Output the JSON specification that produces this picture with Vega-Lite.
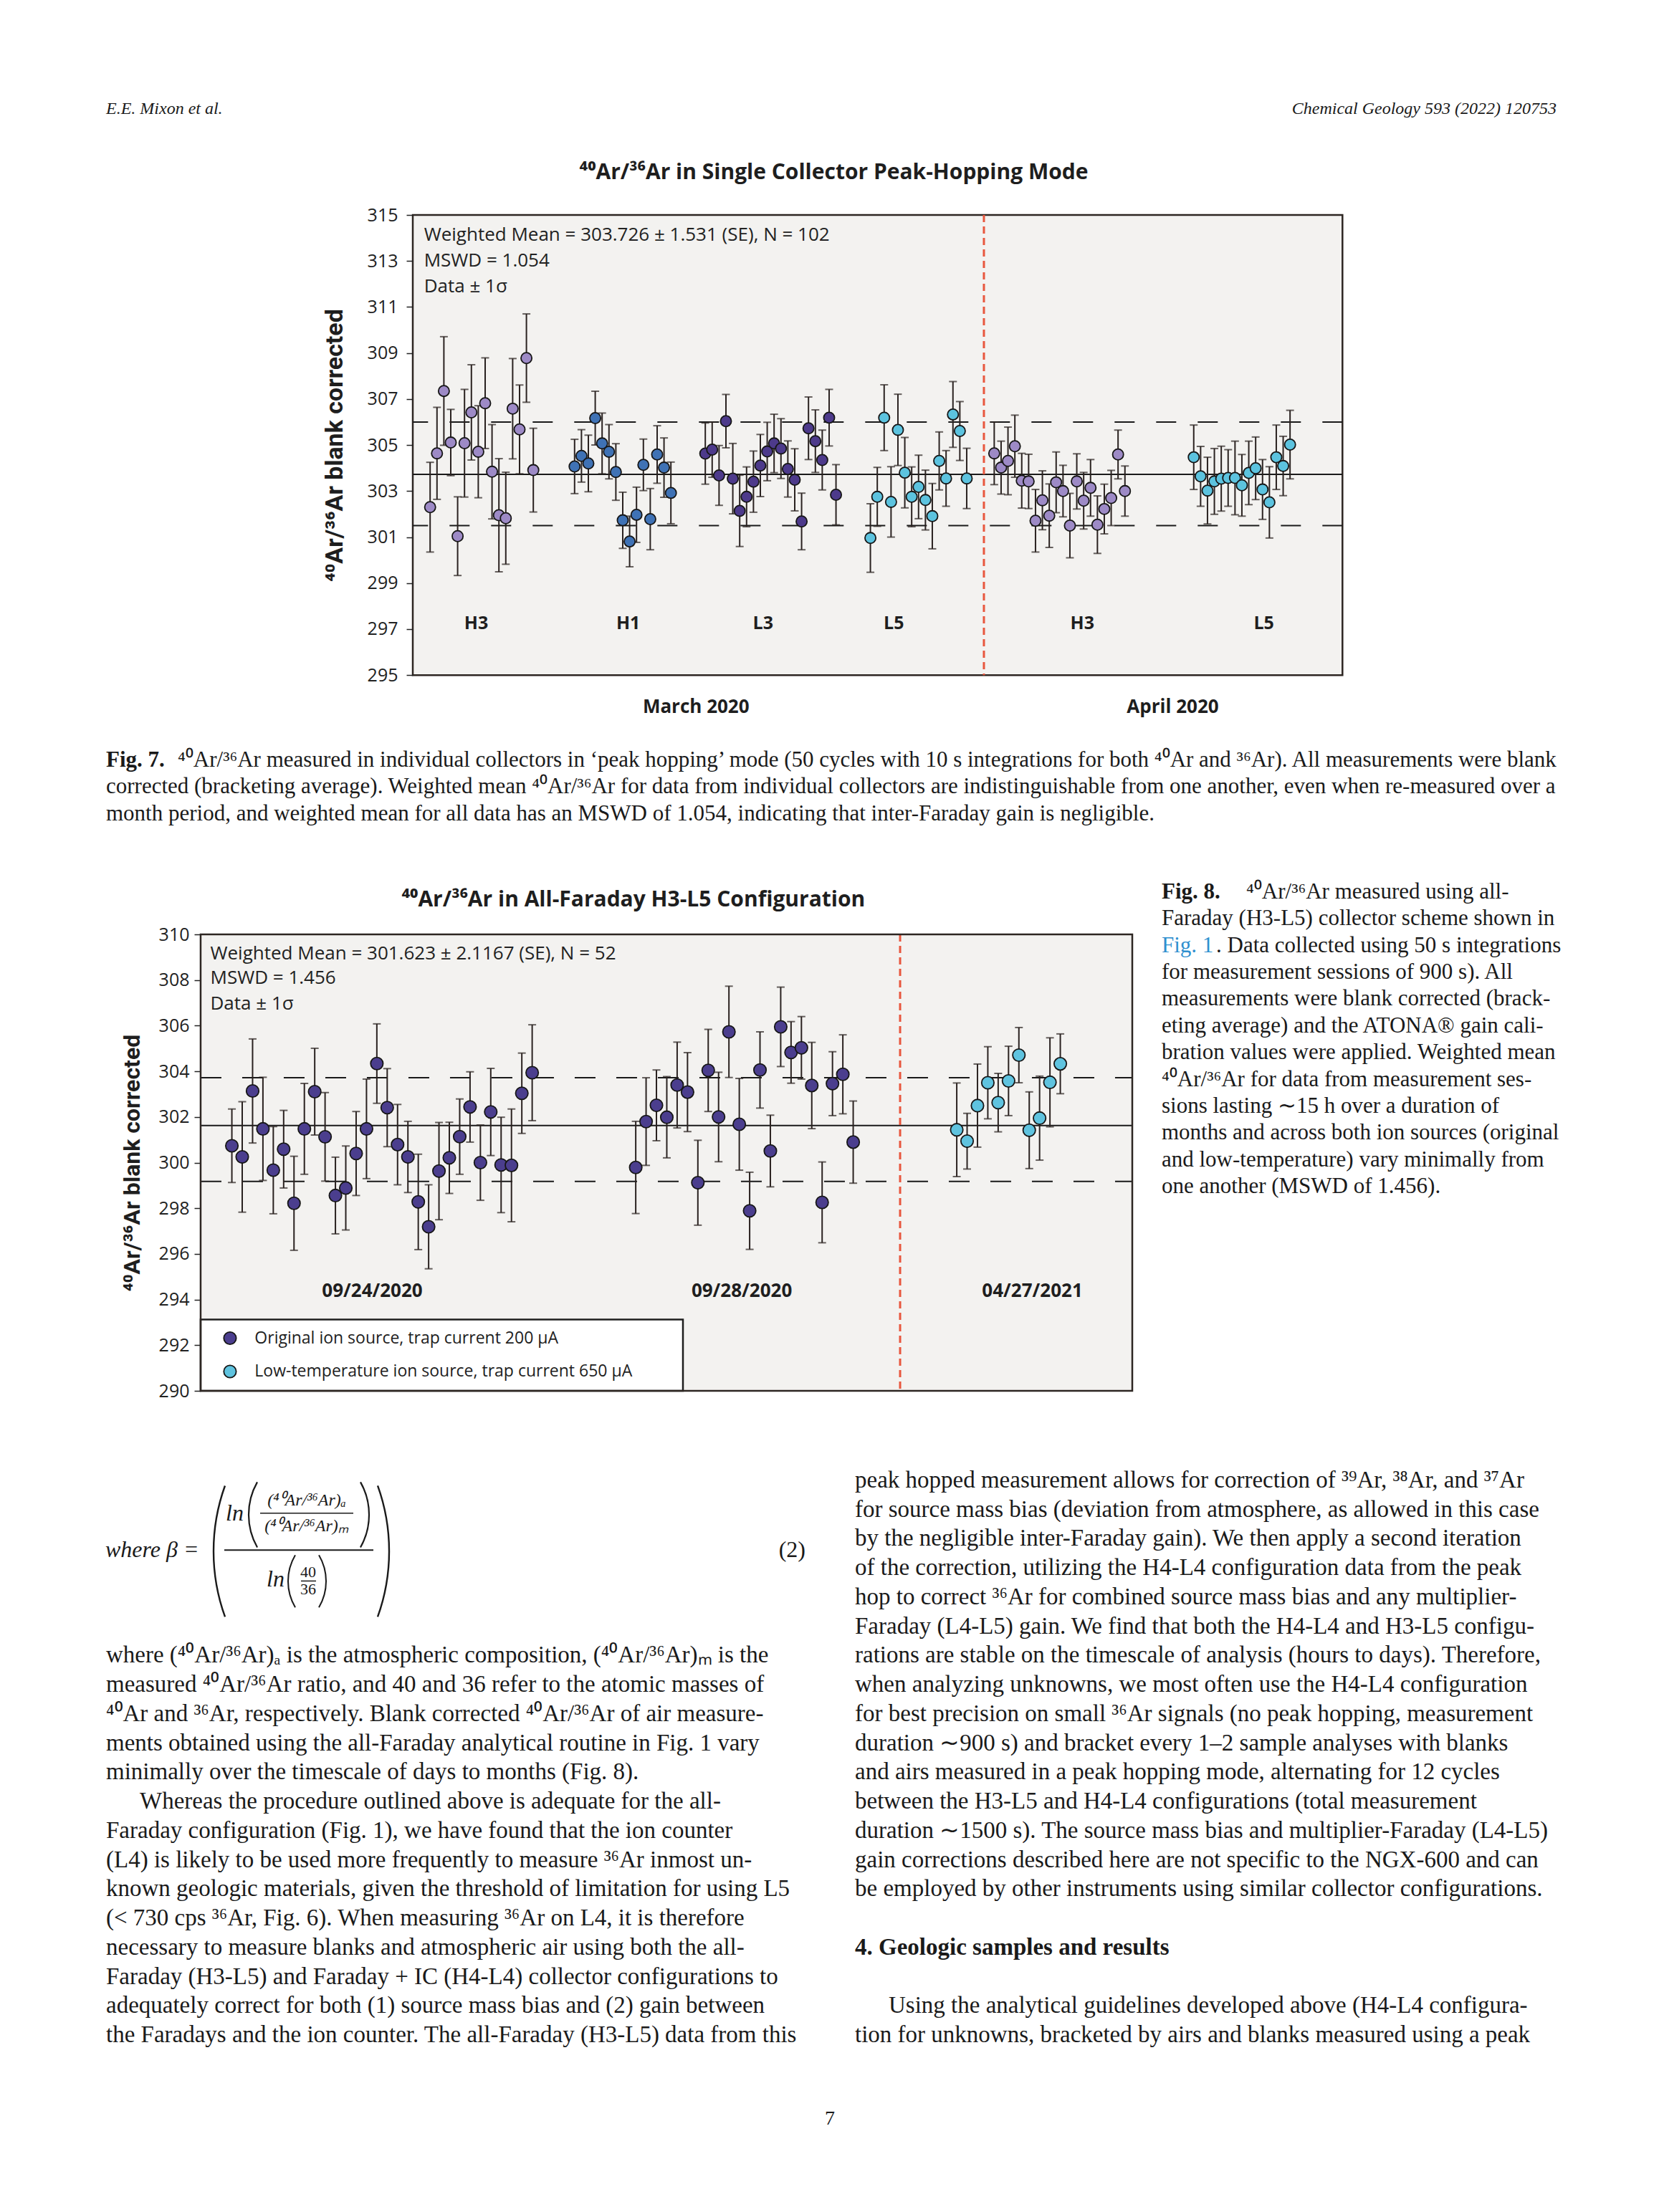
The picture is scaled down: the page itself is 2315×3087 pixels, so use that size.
{
"$schema": "https://vega.github.io/schema/vega-lite/v6.json",
"padding": 0,
"background": "white",
"columns": 2,
"align": "none",
"spacing": 0,
"bounds": "flush",
"resolve": {"scale": {"color": "independent"}},
"config": {"view": {"stroke": null}, "font": "Open Sans", "concat": {"spacing": 0}},
"datasets": {
"c1": [
{"s":1,"v":302.30,"e":1.95,"c":"H3"},{"s":2,"v":304.64,"e":2.00,"c":"H3"},{"s":3,"v":307.35,"e":2.36,"c":"H3"},{"s":4,"v":305.11,"e":1.44,"c":"H3"},{"s":5,"v":301.04,"e":1.71,"c":"H3"},{"s":6,"v":305.08,"e":2.34,"c":"H3"},{"s":7,"v":306.42,"e":2.07,"c":"H3"},{"s":8,"v":304.71,"e":2.00,"c":"H3"},{"s":9,"v":306.82,"e":1.97,"c":"H3"},{"s":10,"v":303.84,"e":2.05,"c":"H3"},{"s":11,"v":301.95,"e":2.46,"c":"H3"},{"s":12,"v":301.82,"e":2.00,"c":"H3"},{"s":13,"v":306.58,"e":2.18,"c":"H3"},{"s":14,"v":305.68,"e":1.93,"c":"H3"},{"s":15,"v":308.78,"e":1.92,"c":"H3"},{"s":16,"v":303.91,"e":1.82,"c":"H3"},
{"s":22,"v":304.07,"e":1.18,"c":"H1"},{"s":23,"v":304.53,"e":1.14,"c":"H1"},{"s":24,"v":304.20,"e":1.23,"c":"H1"},{"s":25,"v":306.17,"e":1.17,"c":"H1"},{"s":26,"v":305.07,"e":1.32,"c":"H1"},{"s":27,"v":304.71,"e":1.18,"c":"H1"},{"s":28,"v":303.83,"e":1.23,"c":"H1"},{"s":29,"v":301.73,"e":1.22,"c":"H1"},{"s":30,"v":300.81,"e":1.10,"c":"H1"},{"s":31,"v":301.97,"e":1.20,"c":"H1"},{"s":32,"v":304.14,"e":1.12,"c":"H1"},{"s":33,"v":301.78,"e":1.33,"c":"H1"},{"s":34,"v":304.59,"e":1.25,"c":"H1"},{"s":35,"v":304.02,"e":1.29,"c":"H1"},{"s":36,"v":302.92,"e":1.34,"c":"H1"},
{"s":41,"v":304.63,"e":1.33,"c":"L3"},{"s":42,"v":304.80,"e":1.20,"c":"L3"},{"s":43,"v":303.68,"e":1.30,"c":"L3"},{"s":44,"v":306.04,"e":1.16,"c":"L3"},{"s":45,"v":303.54,"e":1.53,"c":"L3"},{"s":46,"v":302.14,"e":1.55,"c":"L3"},{"s":47,"v":302.75,"e":1.30,"c":"L3"},{"s":48,"v":303.41,"e":1.33,"c":"L3"},{"s":49,"v":304.11,"e":1.35,"c":"L3"},{"s":50,"v":304.72,"e":1.27,"c":"L3"},{"s":51,"v":305.07,"e":1.27,"c":"L3"},{"s":52,"v":304.85,"e":1.30,"c":"L3"},{"s":53,"v":303.96,"e":1.22,"c":"L3"},{"s":54,"v":303.49,"e":1.35,"c":"L3"},{"s":55,"v":301.68,"e":1.23,"c":"L3"},{"s":56,"v":305.73,"e":1.36,"c":"L3"},{"s":57,"v":305.17,"e":1.36,"c":"L3"},{"s":58,"v":304.35,"e":1.30,"c":"L3"},{"s":59,"v":306.19,"e":1.23,"c":"L3"},{"s":60,"v":302.84,"e":1.31,"c":"L3"},
{"s":65,"v":300.96,"e":1.49,"c":"L5"},{"s":66,"v":302.75,"e":1.28,"c":"L5"},{"s":67,"v":306.19,"e":1.43,"c":"L5"},{"s":68,"v":302.53,"e":1.53,"c":"L5"},{"s":69,"v":305.66,"e":1.55,"c":"L5"},{"s":70,"v":303.80,"e":1.53,"c":"L5"},{"s":71,"v":302.75,"e":1.30,"c":"L5"},{"s":72,"v":303.18,"e":1.38,"c":"L5"},{"s":73,"v":302.61,"e":1.30,"c":"L5"},{"s":74,"v":301.91,"e":1.42,"c":"L5"},{"s":75,"v":304.31,"e":1.26,"c":"L5"},{"s":76,"v":303.55,"e":1.21,"c":"L5"},{"s":77,"v":306.33,"e":1.43,"c":"L5"},{"s":78,"v":305.61,"e":1.28,"c":"L5"},{"s":79,"v":303.55,"e":1.31,"c":"L5"},
{"s":83,"v":304.64,"e":1.36,"c":"H3"},{"s":84,"v":304.02,"e":1.15,"c":"H3"},{"s":85,"v":304.31,"e":1.47,"c":"H3"},{"s":86,"v":304.95,"e":1.35,"c":"H3"},{"s":87,"v":303.45,"e":1.19,"c":"H3"},{"s":88,"v":303.42,"e":1.18,"c":"H3"},{"s":89,"v":301.71,"e":1.36,"c":"H3"},{"s":90,"v":302.60,"e":1.28,"c":"H3"},{"s":91,"v":301.93,"e":1.38,"c":"H3"},{"s":92,"v":303.38,"e":1.32,"c":"H3"},{"s":93,"v":303.00,"e":1.12,"c":"H3"},{"s":94,"v":301.50,"e":1.40,"c":"H3"},{"s":95,"v":303.42,"e":1.20,"c":"H3"},{"s":96,"v":302.58,"e":1.23,"c":"H3"},{"s":97,"v":303.14,"e":1.23,"c":"H3"},{"s":98,"v":301.54,"e":1.25,"c":"H3"},{"s":99,"v":302.22,"e":1.08,"c":"H3"},{"s":100,"v":302.70,"e":1.20,"c":"H3"},{"s":101,"v":304.59,"e":1.06,"c":"H3"},{"s":102,"v":303.00,"e":1.09,"c":"H3"},
{"s":112,"v":304.47,"e":1.40,"c":"L5"},{"s":113,"v":303.64,"e":1.30,"c":"L5"},{"s":114,"v":303.02,"e":1.45,"c":"L5"},{"s":115,"v":303.42,"e":1.43,"c":"L5"},{"s":116,"v":303.54,"e":1.41,"c":"L5"},{"s":117,"v":303.57,"e":1.23,"c":"L5"},{"s":118,"v":303.57,"e":1.60,"c":"L5"},{"s":119,"v":303.25,"e":1.34,"c":"L5"},{"s":120,"v":303.79,"e":1.38,"c":"L5"},{"s":121,"v":303.99,"e":1.36,"c":"L5"},{"s":122,"v":303.07,"e":1.30,"c":"L5"},{"s":123,"v":302.51,"e":1.55,"c":"L5"},{"s":124,"v":304.47,"e":1.40,"c":"L5"},{"s":125,"v":304.09,"e":1.29,"c":"L5"},{"s":126,"v":305.02,"e":1.49,"c":"L5"}
],
"c2": [
{"s":1,"v":300.74,"e":1.61,"src":"original"},{"s":2,"v":300.25,"e":2.42,"src":"original"},{"s":3,"v":303.14,"e":2.28,"src":"original"},{"s":4,"v":301.48,"e":2.26,"src":"original"},{"s":5,"v":299.67,"e":1.91,"src":"original"},{"s":6,"v":300.59,"e":1.70,"src":"original"},{"s":7,"v":298.22,"e":2.06,"src":"original"},{"s":8,"v":301.48,"e":1.99,"src":"original"},{"s":9,"v":303.11,"e":1.90,"src":"original"},{"s":10,"v":301.13,"e":1.94,"src":"original"},{"s":11,"v":298.56,"e":1.68,"src":"original"},{"s":12,"v":298.89,"e":1.84,"src":"original"},{"s":13,"v":300.40,"e":1.84,"src":"original"},{"s":14,"v":301.48,"e":2.18,"src":"original"},{"s":15,"v":304.34,"e":1.74,"src":"original"},{"s":16,"v":302.41,"e":1.71,"src":"original"},{"s":17,"v":300.79,"e":1.76,"src":"original"},{"s":18,"v":300.25,"e":1.56,"src":"original"},{"s":19,"v":298.28,"e":2.09,"src":"original"},{"s":20,"v":297.19,"e":1.84,"src":"original"},{"s":21,"v":299.63,"e":2.13,"src":"original"},{"s":22,"v":300.21,"e":1.56,"src":"original"},{"s":23,"v":301.14,"e":1.65,"src":"original"},{"s":24,"v":302.44,"e":1.54,"src":"original"},{"s":25,"v":300.00,"e":1.65,"src":"original"},{"s":26,"v":302.22,"e":1.91,"src":"original"},{"s":27,"v":299.90,"e":2.09,"src":"original"},{"s":28,"v":299.88,"e":2.47,"src":"original"},{"s":29,"v":303.04,"e":1.76,"src":"original"},{"s":30,"v":303.94,"e":2.10,"src":"original"},
{"s":40,"v":299.79,"e":2.02,"src":"original"},{"s":41,"v":301.80,"e":1.92,"src":"original"},{"s":42,"v":302.51,"e":1.55,"src":"original"},{"s":43,"v":301.99,"e":1.78,"src":"original"},{"s":44,"v":303.40,"e":1.88,"src":"original"},{"s":45,"v":303.09,"e":1.73,"src":"original"},{"s":46,"v":299.12,"e":1.86,"src":"original"},{"s":47,"v":304.04,"e":1.80,"src":"original"},{"s":48,"v":302.00,"e":1.96,"src":"original"},{"s":49,"v":305.73,"e":2.00,"src":"original"},{"s":50,"v":301.68,"e":2.01,"src":"original"},{"s":51,"v":297.89,"e":1.69,"src":"original"},{"s":52,"v":304.06,"e":1.67,"src":"original"},{"s":53,"v":300.51,"e":1.57,"src":"original"},{"s":54,"v":305.95,"e":1.74,"src":"original"},{"s":55,"v":304.83,"e":1.35,"src":"original"},{"s":56,"v":305.03,"e":1.37,"src":"original"},{"s":57,"v":303.38,"e":1.89,"src":"original"},{"s":58,"v":298.26,"e":1.77,"src":"original"},{"s":59,"v":303.46,"e":1.40,"src":"original"},{"s":60,"v":303.87,"e":1.73,"src":"original"},{"s":61,"v":300.90,"e":1.80,"src":"original"},
{"s":71,"v":301.44,"e":2.05,"src":"low-temperature"},{"s":72,"v":300.94,"e":1.22,"src":"low-temperature"},{"s":73,"v":302.50,"e":1.82,"src":"low-temperature"},{"s":74,"v":303.50,"e":1.58,"src":"low-temperature"},{"s":75,"v":302.63,"e":1.28,"src":"low-temperature"},{"s":76,"v":303.58,"e":1.52,"src":"low-temperature"},{"s":77,"v":304.71,"e":1.21,"src":"low-temperature"},{"s":78,"v":301.42,"e":1.68,"src":"low-temperature"},{"s":79,"v":301.95,"e":1.84,"src":"low-temperature"},{"s":80,"v":303.52,"e":1.95,"src":"low-temperature"},{"s":81,"v":304.33,"e":1.31,"src":"low-temperature"}
],
"cap7": [
{"l":1,"t":"corrected (bracketing average). Weighted mean ⁴⁰Ar/³⁶Ar for data from individual collectors are indistinguishable from one another, even when re-measured over a"},
{"l":2,"t":"month period, and weighted mean for all data has an MSWD of 1.054, indicating that inter-Faraday gain is negligible."}
],
"cap8": [
{"l":1,"t":"Faraday (H3-L5) collector scheme shown in"},
{"l":3,"t":"for measurement sessions of 900 s). All"},
{"l":4,"t":"measurements were blank corrected (brack-"},
{"l":5,"t":"eting average) and the ATONA® gain cali-"},
{"l":6,"t":"bration values were applied. Weighted mean"},
{"l":7,"t":"⁴⁰Ar/³⁶Ar for data from measurement ses-"},
{"l":8,"t":"sions lasting ∼15 h over a duration of"},
{"l":9,"t":"months and across both ion sources (original"},
{"l":10,"t":"and low-temperature) vary minimally from"},
{"l":11,"t":"one another (MSWD of 1.456)."}
],
"left": [
{"l":6,"t":"where (⁴⁰Ar/³⁶Ar)ₐ is the atmospheric composition, (⁴⁰Ar/³⁶Ar)ₘ is the"},
{"l":7,"t":"measured ⁴⁰Ar/³⁶Ar ratio, and 40 and 36 refer to the atomic masses of"},
{"l":8,"t":"⁴⁰Ar and ³⁶Ar, respectively. Blank corrected ⁴⁰Ar/³⁶Ar of air measure-"},
{"l":9,"t":"ments obtained using the all-Faraday analytical routine in Fig. 1 vary"},
{"l":10,"t":"minimally over the timescale of days to months (Fig. 8)."},
{"l":12,"t":"Faraday configuration (Fig. 1), we have found that the ion counter"},
{"l":13,"t":"(L4) is likely to be used more frequently to measure ³⁶Ar inmost un-"},
{"l":14,"t":"known geologic materials, given the threshold of limitation for using L5"},
{"l":15,"t":"(< 730 cps ³⁶Ar, Fig. 6). When measuring ³⁶Ar on L4, it is therefore"},
{"l":16,"t":"necessary to measure blanks and atmospheric air using both the all-"},
{"l":17,"t":"Faraday (H3-L5) and Faraday + IC (H4-L4) collector configurations to"},
{"l":18,"t":"adequately correct for both (1) source mass bias and (2) gain between"},
{"l":19,"t":"the Faradays and the ion counter. The all-Faraday (H3-L5) data from this"}
],
"leftIndent": [
{"l":11,"t":"Whereas the procedure outlined above is adequate for the all-"}
],
"right": [
{"l":0,"t":"peak hopped measurement allows for correction of ³⁹Ar, ³⁸Ar, and ³⁷Ar"},
{"l":1,"t":"for source mass bias (deviation from atmosphere, as allowed in this case"},
{"l":2,"t":"by the negligible inter-Faraday gain). We then apply a second iteration"},
{"l":3,"t":"of the correction, utilizing the H4-L4 configuration data from the peak"},
{"l":4,"t":"hop to correct ³⁶Ar for combined source mass bias and any multiplier-"},
{"l":5,"t":"Faraday (L4-L5) gain. We find that both the H4-L4 and H3-L5 configu-"},
{"l":6,"t":"rations are stable on the timescale of analysis (hours to days). Therefore,"},
{"l":7,"t":"when analyzing unknowns, we most often use the H4-L4 configuration"},
{"l":8,"t":"for best precision on small ³⁶Ar signals (no peak hopping, measurement"},
{"l":9,"t":"duration ∼900 s) and bracket every 1–2 sample analyses with blanks"},
{"l":10,"t":"and airs measured in a peak hopping mode, alternating for 12 cycles"},
{"l":11,"t":"between the H3-L5 and H4-L4 configurations (total measurement"},
{"l":12,"t":"duration ∼1500 s). The source mass bias and multiplier-Faraday (L4-L5)"},
{"l":13,"t":"gain corrections described here are not specific to the NGX-600 and can"},
{"l":14,"t":"be employed by other instruments using similar collector configurations."},
{"l":19,"t":"tion for unknowns, bracketed by airs and blanks measured using a peak"}
],
"rightIndent": [
{"l":18,"t":"Using the analytical guidelines developed above (H4-L4 configura-"}
]
},
"concat": [
{
"width": 576, "height": 299.4,
"layer": [
{"data": {"values": [{}]}, "mark": {"type": "text", "text": "E.E. Mixon et al.", "font": "Liberation Serif", "fontStyle": "italic", "fontSize": 24, "align": "left", "baseline": "middle", "color": "#1a1a1a"},
 "encoding": {"x": {"datum": 148, "type": "quantitative", "scale": {"domain": [0, 576], "nice": false, "zero": false}, "axis": null}, "y": {"datum": 151.6, "type": "quantitative", "scale": {"domain": [0, 299.4], "reverse": true, "nice": false, "zero": false}, "axis": null}}},
{"data": {"values": [{}]}, "mark": {"type": "text", "text": "Chemical Geology 593 (2022) 120753", "font": "Liberation Serif", "fontStyle": "italic", "fontSize": 24, "align": "right", "baseline": "middle", "color": "#1a1a1a"},
 "encoding": {"x": {"datum": 2172, "type": "quantitative", "scale": {"domain": [0, 576], "nice": false, "zero": false}, "axis": null}, "y": {"datum": 151.6, "type": "quantitative", "scale": {"domain": [0, 299.4], "reverse": true, "nice": false, "zero": false}, "axis": null}}}
]
},
{"width": 1739, "height": 299.4, "data": {"values": []}, "mark": "point"},
{"width": 576, "height": 642.2, "data": {"values": []}, "mark": "point"},
{
"width": 1297.3, "height": 642.2,
"view": {"fill": "#f3f2f0", "stroke": "#2d2622", "strokeWidth": 2.5},
"title": {"text": "⁴⁰Ar/³⁶Ar in Single Collector Peak-Hopping Mode", "font": "Open Sans", "fontSize": 30, "fontWeight": "bold", "color": "#1e1e1e", "offset": 32, "dx": -61, "anchor": "middle"},
"layer": [
{"data": {"values": [{"v": 303.726}]}, "mark": {"type": "rule", "color": "#1a1a1a", "strokeWidth": 2},
 "encoding": {"y": {"field": "v", "type": "quantitative", "scale": {"domain": [295, 315], "nice": false, "zero": false},
   "axis": {"values": [295, 297, 299, 301, 303, 305, 307, 309, 311, 313, 315], "title": "⁴⁰Ar/³⁶Ar blank corrected", "titleFont": "Roboto", "titleFontSize": 34, "titleFontWeight": "bold", "titleColor": "#1e1e1e", "titlePadding": 28, "labelFont": "Open Sans", "labelFontSize": 25, "labelColor": "#222222", "labelPadding": 12, "tickSize": 9, "tickColor": "#222222", "tickWidth": 1.5, "domain": false, "grid": false}}}},
{"data": {"values": [{"v": 306.0}, {"v": 301.5}]}, "mark": {"type": "rule", "color": "#1a1a1a", "strokeWidth": 2, "strokeDash": [28, 30]},
 "encoding": {"y": {"field": "v", "type": "quantitative", "scale": {"domain": [295, 315], "nice": false, "zero": false},
   "axis": {"values": [295, 297, 299, 301, 303, 305, 307, 309, 311, 313, 315], "title": "⁴⁰Ar/³⁶Ar blank corrected", "titleFont": "Roboto", "titleFontSize": 34, "titleFontWeight": "bold", "titleColor": "#1e1e1e", "titlePadding": 28, "labelFont": "Open Sans", "labelFontSize": 25, "labelColor": "#222222", "labelPadding": 12, "tickSize": 9, "tickColor": "#222222", "tickWidth": 1.5, "domain": false, "grid": false}}}},
{"data": {"values": [{"s": 81.5}]}, "mark": {"type": "rule", "color": "#e8573e", "strokeWidth": 3, "strokeDash": [10, 6]},
 "encoding": {"x": {"field": "s", "type": "quantitative", "scale": {"domain": [-1.52, 133.62], "nice": false, "zero": false},
   "axis": {"values": [39.6, 108.9], "labelExpr": "datum.value < 70 ? 'March 2020' : 'April 2020'", "ticks": false, "tickSize": 0, "domain": false, "grid": false, "title": null, "labelFont": "Open Sans", "labelFontSize": 26, "labelFontWeight": "bold", "labelColor": "#1e1e1e", "labelPadding": 31}}}},
{"data": {"name": "c1"}, "mark": {"type": "errorbar", "ticks": {"size": 11, "thickness": 2, "color": "#2a2220"}, "rule": {"strokeWidth": 2, "color": "#2a2220"}},
 "encoding": {
   "x": {"field": "s", "type": "quantitative", "scale": {"domain": [-1.52, 133.62], "nice": false, "zero": false},
     "axis": {"values": [39.6, 108.9], "labelExpr": "datum.value < 70 ? 'March 2020' : 'April 2020'", "ticks": false, "tickSize": 0, "domain": false, "grid": false, "title": null, "labelFont": "Open Sans", "labelFontSize": 26, "labelFontWeight": "bold", "labelColor": "#1e1e1e", "labelPadding": 31}},
   "y": {"field": "v", "type": "quantitative", "scale": {"domain": [295, 315], "nice": false, "zero": false},
     "axis": {"values": [295, 297, 299, 301, 303, 305, 307, 309, 311, 313, 315], "title": "⁴⁰Ar/³⁶Ar blank corrected", "titleFont": "Roboto", "titleFontSize": 34, "titleFontWeight": "bold", "titleColor": "#1e1e1e", "titlePadding": 28, "labelFont": "Open Sans", "labelFontSize": 25, "labelColor": "#222222", "labelPadding": 12, "tickSize": 9, "tickColor": "#222222", "tickWidth": 1.5, "domain": false, "grid": false}},
   "yError": {"field": "e"}}},
{"data": {"name": "c1"}, "mark": {"type": "circle", "size": 230, "opacity": 1, "stroke": "#161616", "strokeWidth": 1.8},
 "encoding": {
  "x": {"field": "s", "type": "quantitative", "scale": {"domain": [-1.52, 133.62], "nice": false, "zero": false},
     "axis": {"values": [39.6, 108.9], "labelExpr": "datum.value < 70 ? 'March 2020' : 'April 2020'", "ticks": false, "tickSize": 0, "domain": false, "grid": false, "title": null, "labelFont": "Open Sans", "labelFontSize": 26, "labelFontWeight": "bold", "labelColor": "#1e1e1e", "labelPadding": 31}},
  "y": {"field": "v", "type": "quantitative", "scale": {"domain": [295, 315], "nice": false, "zero": false},
     "axis": {"values": [295, 297, 299, 301, 303, 305, 307, 309, 311, 313, 315], "title": "⁴⁰Ar/³⁶Ar blank corrected", "titleFont": "Roboto", "titleFontSize": 34, "titleFontWeight": "bold", "titleColor": "#1e1e1e", "titlePadding": 28, "labelFont": "Open Sans", "labelFontSize": 25, "labelColor": "#222222", "labelPadding": 12, "tickSize": 9, "tickColor": "#222222", "tickWidth": 1.5, "domain": false, "grid": false}},
  "color": {"field": "c", "type": "nominal", "scale": {"domain": ["H3", "H1", "L3", "L5"], "range": ["#9d8ac6", "#3f72b5", "#4d3a8b", "#5cc3df"]}, "legend": null}}},
{"data": {"values": [{"t": "H3", "s": 7.7}, {"t": "H1", "s": 29.8}, {"t": "L3", "s": 49.4}, {"t": "L5", "s": 68.4}, {"t": "H3", "s": 95.8}, {"t": "L5", "s": 122.2}]},
 "mark": {"type": "text", "font": "Open Sans", "fontSize": 25, "fontWeight": "bold", "color": "#1e1e1e", "baseline": "middle", "align": "center"},
 "encoding": {"x": {"field": "s", "type": "quantitative", "scale": {"domain": [-1.52, 133.62], "nice": false, "zero": false},
     "axis": {"values": [39.6, 108.9], "labelExpr": "datum.value < 70 ? 'March 2020' : 'April 2020'", "ticks": false, "tickSize": 0, "domain": false, "grid": false, "title": null, "labelFont": "Open Sans", "labelFontSize": 26, "labelFontWeight": "bold", "labelColor": "#1e1e1e", "labelPadding": 31}},
   "y": {"datum": 297.25, "type": "quantitative", "scale": {"domain": [295, 315], "nice": false, "zero": false},
     "axis": {"values": [295, 297, 299, 301, 303, 305, 307, 309, 311, 313, 315], "title": "⁴⁰Ar/³⁶Ar blank corrected", "titleFont": "Roboto", "titleFontSize": 34, "titleFontWeight": "bold", "titleColor": "#1e1e1e", "titlePadding": 28, "labelFont": "Open Sans", "labelFontSize": 25, "labelColor": "#222222", "labelPadding": 12, "tickSize": 9, "tickColor": "#222222", "tickWidth": 1.5, "domain": false, "grid": false}},
   "text": {"field": "t"}}},
{"data": {"values": [{}]}, "mark": {"type": "text", "text": "Weighted Mean = 303.726 ± 1.531 (SE), N = 102", "font": "Open Sans", "fontSize": 26, "color": "#222222", "align": "left", "baseline": "middle"},
 "encoding": {"x": {"datum": 0.11, "type": "quantitative", "scale": {"domain": [-1.52, 133.62], "nice": false, "zero": false}}, "y": {"datum": 314.14, "type": "quantitative", "scale": {"domain": [295, 315], "nice": false, "zero": false}}}},
{"data": {"values": [{}]}, "mark": {"type": "text", "text": "MSWD = 1.054", "font": "Open Sans", "fontSize": 26, "color": "#222222", "align": "left", "baseline": "middle"},
 "encoding": {"x": {"datum": 0.11, "type": "quantitative", "scale": {"domain": [-1.52, 133.62], "nice": false, "zero": false}}, "y": {"datum": 313.0, "type": "quantitative", "scale": {"domain": [295, 315], "nice": false, "zero": false}}}},
{"data": {"values": [{}]}, "mark": {"type": "text", "text": "Data ± 1σ", "font": "Open Sans", "fontSize": 26, "color": "#222222", "align": "left", "baseline": "middle"},
 "encoding": {"x": {"datum": 0.11, "type": "quantitative", "scale": {"domain": [-1.52, 133.62], "nice": false, "zero": false}}, "y": {"datum": 311.9, "type": "quantitative", "scale": {"domain": [295, 315], "nice": false, "zero": false}}}}
]
},
{
"width": 576, "height": 361,
"resolve": {"scale": {"y": "independent"}},
"layer": [
{"data": {"values": [{}]}, "mark": {"type": "text", "text": "Fig. 7.", "font": "Liberation Serif", "fontSize": 31, "fontWeight": "bold", "align": "left", "baseline": "middle", "color": "#1a1a1a"},
 "encoding": {"x": {"datum": 148, "type": "quantitative", "scale": {"domain": [0, 576], "nice": false, "zero": false}, "axis": null}, "y": {"datum": 0, "type": "quantitative", "scale": {"domain": [-3.147, 6.505], "reverse": true, "nice": false, "zero": false}, "axis": null}}},
{"data": {"values": [{}]}, "mark": {"type": "text", "text": "⁴⁰Ar/³⁶Ar measured in individual collectors in ‘peak hopping’ mode (50 cycles with 10 s integrations for both ⁴⁰Ar and ³⁶Ar). All measurements were blank", "font": "Liberation Serif", "fontSize": 31, "align": "left", "baseline": "middle", "color": "#1a1a1a"},
 "encoding": {"x": {"datum": 248, "type": "quantitative", "scale": {"domain": [0, 576], "nice": false, "zero": false}, "axis": null}, "y": {"datum": 0, "type": "quantitative", "scale": {"domain": [-3.147, 6.505], "reverse": true, "nice": false, "zero": false}, "axis": null}}},
{"data": {"name": "cap7"}, "mark": {"type": "text", "font": "Liberation Serif", "fontSize": 31, "align": "left", "baseline": "middle", "color": "#1a1a1a"},
 "encoding": {"x": {"datum": 148, "type": "quantitative", "scale": {"domain": [0, 576], "nice": false, "zero": false}, "axis": null}, "y": {"field": "l", "type": "quantitative", "scale": {"domain": [-3.147, 6.505], "reverse": true, "nice": false, "zero": false}, "axis": null}, "text": {"field": "t"}}},
{"data": {"values": [{}]}, "mark": {"type": "text", "text": "Fig. 8.", "font": "Liberation Serif", "fontSize": 31, "fontWeight": "bold", "align": "left", "baseline": "middle", "color": "#1a1a1a"},
 "encoding": {"x": {"datum": 1621, "type": "quantitative", "scale": {"domain": [0, 576], "nice": false, "zero": false}, "axis": null}, "y": {"datum": 0, "type": "quantitative", "scale": {"domain": [-8.067, 1.585], "reverse": true, "nice": false, "zero": false}, "axis": null}}},
{"data": {"values": [{}]}, "mark": {"type": "text", "text": "⁴⁰Ar/³⁶Ar  measured  using  all-", "font": "Liberation Serif", "fontSize": 31, "align": "left", "baseline": "middle", "color": "#1a1a1a"},
 "encoding": {"x": {"datum": 1739, "type": "quantitative", "scale": {"domain": [0, 576], "nice": false, "zero": false}, "axis": null}, "y": {"datum": 0, "type": "quantitative", "scale": {"domain": [-8.067, 1.585], "reverse": true, "nice": false, "zero": false}, "axis": null}}},
{"data": {"values": [{}]}, "mark": {"type": "text", "text": "Fig. 1", "font": "Liberation Serif", "fontSize": 31, "align": "left", "baseline": "middle", "color": "#2f8fcf"},
 "encoding": {"x": {"datum": 1621, "type": "quantitative", "scale": {"domain": [0, 576], "nice": false, "zero": false}, "axis": null}, "y": {"datum": 2, "type": "quantitative", "scale": {"domain": [-8.067, 1.585], "reverse": true, "nice": false, "zero": false}, "axis": null}}},
{"data": {"values": [{}]}, "mark": {"type": "text", "text": ". Data collected using 50 s integrations", "font": "Liberation Serif", "fontSize": 31, "align": "left", "baseline": "middle", "color": "#1a1a1a"},
 "encoding": {"x": {"datum": 1697, "type": "quantitative", "scale": {"domain": [0, 576], "nice": false, "zero": false}, "axis": null}, "y": {"datum": 2, "type": "quantitative", "scale": {"domain": [-8.067, 1.585], "reverse": true, "nice": false, "zero": false}, "axis": null}}},
{"data": {"name": "cap8"}, "mark": {"type": "text", "font": "Liberation Serif", "fontSize": 31, "align": "left", "baseline": "middle", "color": "#1a1a1a"},
 "encoding": {"x": {"datum": 1621, "type": "quantitative", "scale": {"domain": [0, 576], "nice": false, "zero": false}, "axis": null}, "y": {"field": "l", "type": "quantitative", "scale": {"domain": [-8.067, 1.585], "reverse": true, "nice": false, "zero": false}, "axis": null}, "text": {"field": "t"}}}
]
},
{"width": 1297.3, "height": 361, "data": {"values": []}, "mark": "point"},
{"width": 576, "height": 637.1, "data": {"values": []}, "mark": "point"},
{
"width": 1004, "height": 637.1,
"title": {"text": "⁴⁰Ar/³⁶Ar in All-Faraday H3-L5 Configuration", "font": "Open Sans", "fontSize": 30, "fontWeight": "bold", "color": "#1e1e1e", "offset": 21, "dx": -194, "anchor": "middle"},
"layer": [
{"data": {"values": [{}]}, "mark": {"type": "rect", "fill": "#f3f2f0"},
 "encoding": {"x": {"datum": -2.017, "type": "quantitative", "scale": {"domain": [18.47, 87.95], "nice": false, "zero": false}, "axis": null}, "x2": {"datum": 87.95},
   "y": {"datum": 290, "type": "quantitative", "scale": {"domain": [290, 310], "nice": false, "zero": false},
     "axis": {"values": [290, 292, 294, 296, 298, 300, 302, 304, 306, 308, 310], "offset": 296, "title": "⁴⁰Ar/³⁶Ar blank corrected", "titleFont": "Roboto", "titleFontSize": 32, "titleFontWeight": "bold", "titleColor": "#1e1e1e", "titlePadding": 20, "labelFont": "Open Sans", "labelFontSize": 25, "labelColor": "#222222", "labelPadding": 7, "tickSize": 9, "tickColor": "#222222", "tickWidth": 1.5, "domain": false, "grid": false}},
   "y2": {"datum": 310}}},
{"data": {"values": [{"v": 301.623}]}, "mark": {"type": "rule", "color": "#1a1a1a", "strokeWidth": 2},
 "encoding": {"x": {"datum": -2.017, "type": "quantitative", "scale": {"domain": [18.47, 87.95], "nice": false, "zero": false}, "axis": null}, "x2": {"datum": 87.95},
   "y": {"field": "v", "type": "quantitative", "scale": {"domain": [290, 310], "nice": false, "zero": false},
     "axis": {"values": [290, 292, 294, 296, 298, 300, 302, 304, 306, 308, 310], "offset": 296, "title": "⁴⁰Ar/³⁶Ar blank corrected", "titleFont": "Roboto", "titleFontSize": 32, "titleFontWeight": "bold", "titleColor": "#1e1e1e", "titlePadding": 20, "labelFont": "Open Sans", "labelFontSize": 25, "labelColor": "#222222", "labelPadding": 7, "tickSize": 9, "tickColor": "#222222", "tickWidth": 1.5, "domain": false, "grid": false}}}},
{"data": {"values": [{"v": 303.72}, {"v": 299.18}]}, "mark": {"type": "rule", "color": "#1a1a1a", "strokeWidth": 2, "strokeDash": [29, 29]},
 "encoding": {"x": {"datum": -2.017, "type": "quantitative", "scale": {"domain": [18.47, 87.95], "nice": false, "zero": false}, "axis": null}, "x2": {"datum": 87.95},
   "y": {"field": "v", "type": "quantitative", "scale": {"domain": [290, 310], "nice": false, "zero": false},
     "axis": {"values": [290, 292, 294, 296, 298, 300, 302, 304, 306, 308, 310], "offset": 296, "title": "⁴⁰Ar/³⁶Ar blank corrected", "titleFont": "Roboto", "titleFontSize": 32, "titleFontWeight": "bold", "titleColor": "#1e1e1e", "titlePadding": 20, "labelFont": "Open Sans", "labelFontSize": 25, "labelColor": "#222222", "labelPadding": 7, "tickSize": 9, "tickColor": "#222222", "tickWidth": 1.5, "domain": false, "grid": false}}}},
{"data": {"values": [{"s": 65.53}]}, "mark": {"type": "rule", "color": "#e8573e", "strokeWidth": 3, "strokeDash": [10, 6]},
 "encoding": {"x": {"field": "s", "type": "quantitative", "scale": {"domain": [18.47, 87.95], "nice": false, "zero": false}, "axis": null}}},
{"data": {"values": [{}]}, "mark": {"type": "rect", "fill": "white", "stroke": "#1e1e1e", "strokeWidth": 2.5},
 "encoding": {"x": {"datum": -2.017, "type": "quantitative", "scale": {"domain": [18.47, 87.95], "nice": false, "zero": false}, "axis": null}, "x2": {"datum": 44.56},
   "y": {"datum": 290, "type": "quantitative", "scale": {"domain": [290, 310], "nice": false, "zero": false}}, "y2": {"datum": 293.13}}},
{"data": {"name": "c2"}, "mark": {"type": "errorbar", "ticks": {"size": 11, "thickness": 2, "color": "#2a2220"}, "rule": {"strokeWidth": 2, "color": "#2a2220"}},
 "encoding": {"x": {"field": "s", "type": "quantitative", "scale": {"domain": [18.47, 87.95], "nice": false, "zero": false}, "axis": null},
   "y": {"field": "v", "type": "quantitative", "scale": {"domain": [290, 310], "nice": false, "zero": false},
     "axis": {"values": [290, 292, 294, 296, 298, 300, 302, 304, 306, 308, 310], "offset": 296, "title": "⁴⁰Ar/³⁶Ar blank corrected", "titleFont": "Roboto", "titleFontSize": 32, "titleFontWeight": "bold", "titleColor": "#1e1e1e", "titlePadding": 20, "labelFont": "Open Sans", "labelFontSize": 25, "labelColor": "#222222", "labelPadding": 7, "tickSize": 9, "tickColor": "#222222", "tickWidth": 1.5, "domain": false, "grid": false}},
   "yError": {"field": "e"}}},
{"data": {"name": "c2"}, "mark": {"type": "circle", "size": 300, "opacity": 1, "stroke": "#161616", "strokeWidth": 1.8},
 "encoding": {
  "x": {"field": "s", "type": "quantitative", "scale": {"domain": [18.47, 87.95], "nice": false, "zero": false}, "axis": null},
  "y": {"field": "v", "type": "quantitative", "scale": {"domain": [290, 310], "nice": false, "zero": false},
     "axis": {"values": [290, 292, 294, 296, 298, 300, 302, 304, 306, 308, 310], "offset": 296, "title": "⁴⁰Ar/³⁶Ar blank corrected", "titleFont": "Roboto", "titleFontSize": 32, "titleFontWeight": "bold", "titleColor": "#1e1e1e", "titlePadding": 20, "labelFont": "Open Sans", "labelFontSize": 25, "labelColor": "#222222", "labelPadding": 7, "tickSize": 9, "tickColor": "#222222", "tickWidth": 1.5, "domain": false, "grid": false}},
  "color": {"field": "src", "type": "nominal", "scale": {"domain": ["original", "low-temperature"], "range": ["#4b3e8e", "#5fc3df"]}, "legend": null}}},
{"data": {"values": [{}]}, "mark": {"type": "circle", "size": 300, "opacity": 1, "stroke": "#161616", "strokeWidth": 1.8},
 "encoding": {"x": {"datum": 0.82, "type": "quantitative", "scale": {"domain": [18.47, 87.95], "nice": false, "zero": false}, "axis": null}, "y": {"datum": 292.31, "type": "quantitative", "scale": {"domain": [290, 310], "nice": false, "zero": false}}, "color": {"datum": "original", "type": "nominal", "scale": {"domain": ["original", "low-temperature"], "range": ["#4b3e8e", "#5fc3df"]}, "legend": null}}},
{"data": {"values": [{}]}, "mark": {"type": "circle", "size": 300, "opacity": 1, "stroke": "#161616", "strokeWidth": 1.8},
 "encoding": {"x": {"datum": 0.82, "type": "quantitative", "scale": {"domain": [18.47, 87.95], "nice": false, "zero": false}, "axis": null}, "y": {"datum": 290.85, "type": "quantitative", "scale": {"domain": [290, 310], "nice": false, "zero": false}}, "color": {"datum": "low-temperature", "type": "nominal", "scale": {"domain": ["original", "low-temperature"], "range": ["#4b3e8e", "#5fc3df"]}, "legend": null}}},
{"data": {"values": [{}]}, "mark": {"type": "text", "text": "Original ion source, trap current 200 μA", "font": "Open Sans", "fontSize": 23, "color": "#1e1e1e", "align": "left", "baseline": "middle"},
 "encoding": {"x": {"datum": 3.2, "type": "quantitative", "scale": {"domain": [18.47, 87.95], "nice": false, "zero": false}, "axis": null}, "y": {"datum": 292.31, "type": "quantitative", "scale": {"domain": [290, 310], "nice": false, "zero": false}}}},
{"data": {"values": [{}]}, "mark": {"type": "text", "text": "Low-temperature ion source, trap current 650 μA", "font": "Open Sans", "fontSize": 23, "color": "#1e1e1e", "align": "left", "baseline": "middle"},
 "encoding": {"x": {"datum": 3.2, "type": "quantitative", "scale": {"domain": [18.47, 87.95], "nice": false, "zero": false}, "axis": null}, "y": {"datum": 290.85, "type": "quantitative", "scale": {"domain": [290, 310], "nice": false, "zero": false}}}},
{"data": {"values": [{"t": "09/24/2020", "s": 14.56}, {"t": "09/28/2020", "s": 50.24}, {"t": "04/27/2021", "s": 78.3}]},
 "mark": {"type": "text", "font": "Open Sans", "fontSize": 26, "fontWeight": "bold", "color": "#1e1e1e", "baseline": "middle", "align": "center"},
 "encoding": {"x": {"field": "s", "type": "quantitative", "scale": {"domain": [18.47, 87.95], "nice": false, "zero": false}, "axis": null},
   "y": {"datum": 294.37, "type": "quantitative", "scale": {"domain": [290, 310], "nice": false, "zero": false}},
   "text": {"field": "t"}}},
{"data": {"values": [{}]}, "mark": {"type": "text", "text": "Weighted Mean = 301.623 ± 2.1167 (SE), N = 52", "font": "Open Sans", "fontSize": 26, "color": "#222222", "align": "left", "baseline": "middle"},
 "encoding": {"x": {"datum": -1.08, "type": "quantitative", "scale": {"domain": [18.47, 87.95], "nice": false, "zero": false}, "axis": null}, "y": {"datum": 309.15, "type": "quantitative", "scale": {"domain": [290, 310], "nice": false, "zero": false}}}},
{"data": {"values": [{}]}, "mark": {"type": "text", "text": "MSWD = 1.456", "font": "Open Sans", "fontSize": 26, "color": "#222222", "align": "left", "baseline": "middle"},
 "encoding": {"x": {"datum": -1.08, "type": "quantitative", "scale": {"domain": [18.47, 87.95], "nice": false, "zero": false}, "axis": null}, "y": {"datum": 308.07, "type": "quantitative", "scale": {"domain": [290, 310], "nice": false, "zero": false}}}},
{"data": {"values": [{}]}, "mark": {"type": "text", "text": "Data ± 1σ", "font": "Open Sans", "fontSize": 26, "color": "#222222", "align": "left", "baseline": "middle"},
 "encoding": {"x": {"datum": -1.08, "type": "quantitative", "scale": {"domain": [18.47, 87.95], "nice": false, "zero": false}, "axis": null}, "y": {"datum": 306.96, "type": "quantitative", "scale": {"domain": [290, 310], "nice": false, "zero": false}}}},
{"data": {"values": [{}]}, "mark": {"type": "rect", "fillOpacity": 0, "stroke": "#2d2622", "strokeWidth": 2.5},
 "encoding": {"x": {"datum": -2.017, "type": "quantitative", "scale": {"domain": [18.47, 87.95], "nice": false, "zero": false}, "axis": null}, "x2": {"datum": 87.95},
   "y": {"datum": 290, "type": "quantitative", "scale": {"domain": [290, 310], "nice": false, "zero": false}}, "y2": {"datum": 310}}}
]
},
{
"width": 576, "height": 1147.3,
"layer": [
{"data": {"values": [{}]}, "mark": {"type": "text", "text": "where β =", "font": "Liberation Serif", "fontStyle": "italic", "fontSize": 32, "align": "left", "baseline": "middle", "color": "#1a1a1a"},
 "encoding": {"x": {"datum": 147, "type": "quantitative", "scale": {"domain": [0, 576], "nice": false, "zero": false}, "axis": null}, "y": {"datum": 2.39, "type": "quantitative", "scale": {"domain": [-3.037, 25.111], "reverse": true, "nice": false, "zero": false}, "axis": null}}},
{"data": {"values": [{}]}, "mark": {"type": "arc", "theta": 4.366, "theta2": 5.058, "innerRadius": 268.4, "outerRadius": 270.8, "fill": "#1a1a1a"},
 "encoding": {"x": {"datum": 567.6, "type": "quantitative", "scale": {"domain": [0, 576], "nice": false, "zero": false}, "axis": null}, "y": {"datum": 2.43, "type": "quantitative", "scale": {"domain": [-3.037, 25.111], "reverse": true, "nice": false, "zero": false}, "axis": null}}},
{"data": {"values": [{}]}, "mark": {"type": "arc", "theta": 1.225, "theta2": 1.917, "innerRadius": 268.4, "outerRadius": 270.8, "fill": "#1a1a1a"},
 "encoding": {"x": {"datum": 273.4, "type": "quantitative", "scale": {"domain": [0, 576], "nice": false, "zero": false}, "axis": null}, "y": {"datum": 2.43, "type": "quantitative", "scale": {"domain": [-3.037, 25.111], "reverse": true, "nice": false, "zero": false}, "axis": null}}},
{"data": {"values": [{}]}, "mark": {"type": "arc", "theta": 4.196, "theta2": 5.228, "innerRadius": 91.2, "outerRadius": 93.4, "fill": "#1a1a1a"},
 "encoding": {"x": {"datum": 439.3, "type": "quantitative", "scale": {"domain": [0, 576], "nice": false, "zero": false}, "axis": null}, "y": {"datum": 1.18, "type": "quantitative", "scale": {"domain": [-3.037, 25.111], "reverse": true, "nice": false, "zero": false}, "axis": null}}},
{"data": {"values": [{}]}, "mark": {"type": "arc", "theta": 1.055, "theta2": 2.087, "innerRadius": 91.2, "outerRadius": 93.4, "fill": "#1a1a1a"},
 "encoding": {"x": {"datum": 422.7, "type": "quantitative", "scale": {"domain": [0, 576], "nice": false, "zero": false}, "axis": null}, "y": {"datum": 1.18, "type": "quantitative", "scale": {"domain": [-3.037, 25.111], "reverse": true, "nice": false, "zero": false}, "axis": null}}},
{"data": {"values": [{}]}, "mark": {"type": "arc", "theta": 4.177, "theta2": 5.247, "innerRadius": 70.6, "outerRadius": 72.6, "fill": "#1a1a1a"},
 "encoding": {"x": {"datum": 473.6, "type": "quantitative", "scale": {"domain": [0, 576], "nice": false, "zero": false}, "axis": null}, "y": {"datum": 3.46, "type": "quantitative", "scale": {"domain": [-3.037, 25.111], "reverse": true, "nice": false, "zero": false}, "axis": null}}},
{"data": {"values": [{}]}, "mark": {"type": "arc", "theta": 1.036, "theta2": 2.106, "innerRadius": 70.6, "outerRadius": 72.6, "fill": "#1a1a1a"},
 "encoding": {"x": {"datum": 383.4, "type": "quantitative", "scale": {"domain": [0, 576], "nice": false, "zero": false}, "axis": null}, "y": {"datum": 3.46, "type": "quantitative", "scale": {"domain": [-3.037, 25.111], "reverse": true, "nice": false, "zero": false}, "axis": null}}},
{"data": {"values": [{}]}, "mark": {"type": "text", "text": "ln", "font": "Liberation Serif", "fontStyle": "italic", "fontSize": 32, "align": "left", "baseline": "middle", "color": "#1a1a1a"},
 "encoding": {"x": {"datum": 315, "type": "quantitative", "scale": {"domain": [0, 576], "nice": false, "zero": false}, "axis": null}, "y": {"datum": 1.14, "type": "quantitative", "scale": {"domain": [-3.037, 25.111], "reverse": true, "nice": false, "zero": false}, "axis": null}}},
{"data": {"values": [{}]}, "mark": {"type": "text", "text": "(⁴⁰Ar/³⁶Ar)ₐ", "font": "Liberation Serif", "fontStyle": "italic", "fontSize": 24, "align": "center", "baseline": "middle", "color": "#1a1a1a"},
 "encoding": {"x": {"datum": 428, "type": "quantitative", "scale": {"domain": [0, 576], "nice": false, "zero": false}, "axis": null}, "y": {"datum": 0.7, "type": "quantitative", "scale": {"domain": [-3.037, 25.111], "reverse": true, "nice": false, "zero": false}, "axis": null}}},
{"data": {"values": [{}]}, "mark": {"type": "text", "text": "(⁴⁰Ar/³⁶Ar)ₘ", "font": "Liberation Serif", "fontStyle": "italic", "fontSize": 24, "align": "center", "baseline": "middle", "color": "#1a1a1a"},
 "encoding": {"x": {"datum": 428, "type": "quantitative", "scale": {"domain": [0, 576], "nice": false, "zero": false}, "axis": null}, "y": {"datum": 1.57, "type": "quantitative", "scale": {"domain": [-3.037, 25.111], "reverse": true, "nice": false, "zero": false}, "axis": null}}},
{"data": {"values": [{}]}, "mark": {"type": "rule", "color": "#1a1a1a", "strokeWidth": 1.5},
 "encoding": {"x": {"datum": 363, "type": "quantitative", "scale": {"domain": [0, 576], "nice": false, "zero": false}, "axis": null}, "x2": {"datum": 493}, "y": {"datum": 1.13, "type": "quantitative", "scale": {"domain": [-3.037, 25.111], "reverse": true, "nice": false, "zero": false}, "axis": null}}},
{"data": {"values": [{}]}, "mark": {"type": "rule", "color": "#1a1a1a", "strokeWidth": 2},
 "encoding": {"x": {"datum": 313, "type": "quantitative", "scale": {"domain": [0, 576], "nice": false, "zero": false}, "axis": null}, "x2": {"datum": 521}, "y": {"datum": 2.39, "type": "quantitative", "scale": {"domain": [-3.037, 25.111], "reverse": true, "nice": false, "zero": false}, "axis": null}}},
{"data": {"values": [{}]}, "mark": {"type": "text", "text": "ln", "font": "Liberation Serif", "fontStyle": "italic", "fontSize": 32, "align": "left", "baseline": "middle", "color": "#1a1a1a"},
 "encoding": {"x": {"datum": 372, "type": "quantitative", "scale": {"domain": [0, 576], "nice": false, "zero": false}, "axis": null}, "y": {"datum": 3.39, "type": "quantitative", "scale": {"domain": [-3.037, 25.111], "reverse": true, "nice": false, "zero": false}, "axis": null}}},
{"data": {"values": [{}]}, "mark": {"type": "text", "text": "40", "font": "Liberation Serif", "fontSize": 22, "align": "center", "baseline": "middle", "color": "#1a1a1a"},
 "encoding": {"x": {"datum": 430, "type": "quantitative", "scale": {"domain": [0, 576], "nice": false, "zero": false}, "axis": null}, "y": {"datum": 3.15, "type": "quantitative", "scale": {"domain": [-3.037, 25.111], "reverse": true, "nice": false, "zero": false}, "axis": null}}},
{"data": {"values": [{}]}, "mark": {"type": "text", "text": "36", "font": "Liberation Serif", "fontSize": 22, "align": "center", "baseline": "middle", "color": "#1a1a1a"},
 "encoding": {"x": {"datum": 430, "type": "quantitative", "scale": {"domain": [0, 576], "nice": false, "zero": false}, "axis": null}, "y": {"datum": 3.74, "type": "quantitative", "scale": {"domain": [-3.037, 25.111], "reverse": true, "nice": false, "zero": false}, "axis": null}}},
{"data": {"values": [{}]}, "mark": {"type": "rule", "color": "#1a1a1a", "strokeWidth": 1.5},
 "encoding": {"x": {"datum": 420, "type": "quantitative", "scale": {"domain": [0, 576], "nice": false, "zero": false}, "axis": null}, "x2": {"datum": 441}, "y": {"datum": 3.45, "type": "quantitative", "scale": {"domain": [-3.037, 25.111], "reverse": true, "nice": false, "zero": false}, "axis": null}}},
{"data": {"values": [{}]}, "mark": {"type": "text", "text": "(2)", "font": "Liberation Serif", "fontSize": 32, "align": "right", "baseline": "middle", "color": "#1a1a1a"},
 "encoding": {"x": {"datum": 1124, "type": "quantitative", "scale": {"domain": [0, 576], "nice": false, "zero": false}, "axis": null}, "y": {"datum": 2.39, "type": "quantitative", "scale": {"domain": [-3.037, 25.111], "reverse": true, "nice": false, "zero": false}, "axis": null}}},
{"data": {"name": "left"}, "mark": {"type": "text", "font": "Liberation Serif", "fontSize": 33, "align": "left", "baseline": "middle", "color": "#1a1a1a"},
 "encoding": {"x": {"datum": 148, "type": "quantitative", "scale": {"domain": [0, 576], "nice": false, "zero": false}, "axis": null}, "y": {"field": "l", "type": "quantitative", "scale": {"domain": [-3.037, 25.111], "reverse": true, "nice": false, "zero": false}, "axis": null}, "text": {"field": "t"}}},
{"data": {"name": "leftIndent"}, "mark": {"type": "text", "font": "Liberation Serif", "fontSize": 33, "align": "left", "baseline": "middle", "color": "#1a1a1a"},
 "encoding": {"x": {"datum": 195, "type": "quantitative", "scale": {"domain": [0, 576], "nice": false, "zero": false}, "axis": null}, "y": {"field": "l", "type": "quantitative", "scale": {"domain": [-3.037, 25.111], "reverse": true, "nice": false, "zero": false}, "axis": null}, "text": {"field": "t"}}},
{"data": {"name": "right"}, "mark": {"type": "text", "font": "Liberation Serif", "fontSize": 33, "align": "left", "baseline": "middle", "color": "#1a1a1a"},
 "encoding": {"x": {"datum": 1193, "type": "quantitative", "scale": {"domain": [0, 576], "nice": false, "zero": false}, "axis": null}, "y": {"field": "l", "type": "quantitative", "scale": {"domain": [-3.037, 25.111], "reverse": true, "nice": false, "zero": false}, "axis": null}, "text": {"field": "t"}}},
{"data": {"name": "rightIndent"}, "mark": {"type": "text", "font": "Liberation Serif", "fontSize": 33, "align": "left", "baseline": "middle", "color": "#1a1a1a"},
 "encoding": {"x": {"datum": 1240, "type": "quantitative", "scale": {"domain": [0, 576], "nice": false, "zero": false}, "axis": null}, "y": {"field": "l", "type": "quantitative", "scale": {"domain": [-3.037, 25.111], "reverse": true, "nice": false, "zero": false}, "axis": null}, "text": {"field": "t"}}},
{"data": {"values": [{}]}, "mark": {"type": "text", "text": "4.  Geologic samples and results", "font": "Liberation Serif", "fontSize": 33, "fontWeight": "bold", "align": "left", "baseline": "middle", "color": "#1a1a1a"},
 "encoding": {"x": {"datum": 1193, "type": "quantitative", "scale": {"domain": [0, 576], "nice": false, "zero": false}, "axis": null}, "y": {"datum": 16, "type": "quantitative", "scale": {"domain": [-3.037, 25.111], "reverse": true, "nice": false, "zero": false}, "axis": null}}},
{"data": {"values": [{}]}, "mark": {"type": "text", "text": "7", "font": "Liberation Serif", "fontSize": 28, "align": "center", "baseline": "middle", "color": "#1a1a1a"},
 "encoding": {"x": {"datum": 1158, "type": "quantitative", "scale": {"domain": [0, 576], "nice": false, "zero": false}, "axis": null}, "y": {"datum": 21.87, "type": "quantitative", "scale": {"domain": [-3.037, 25.111], "reverse": true, "nice": false, "zero": false}, "axis": null}}}
]
},
{"width": 1300, "height": 1147.3, "data": {"values": []}, "mark": "point"}
]
}
